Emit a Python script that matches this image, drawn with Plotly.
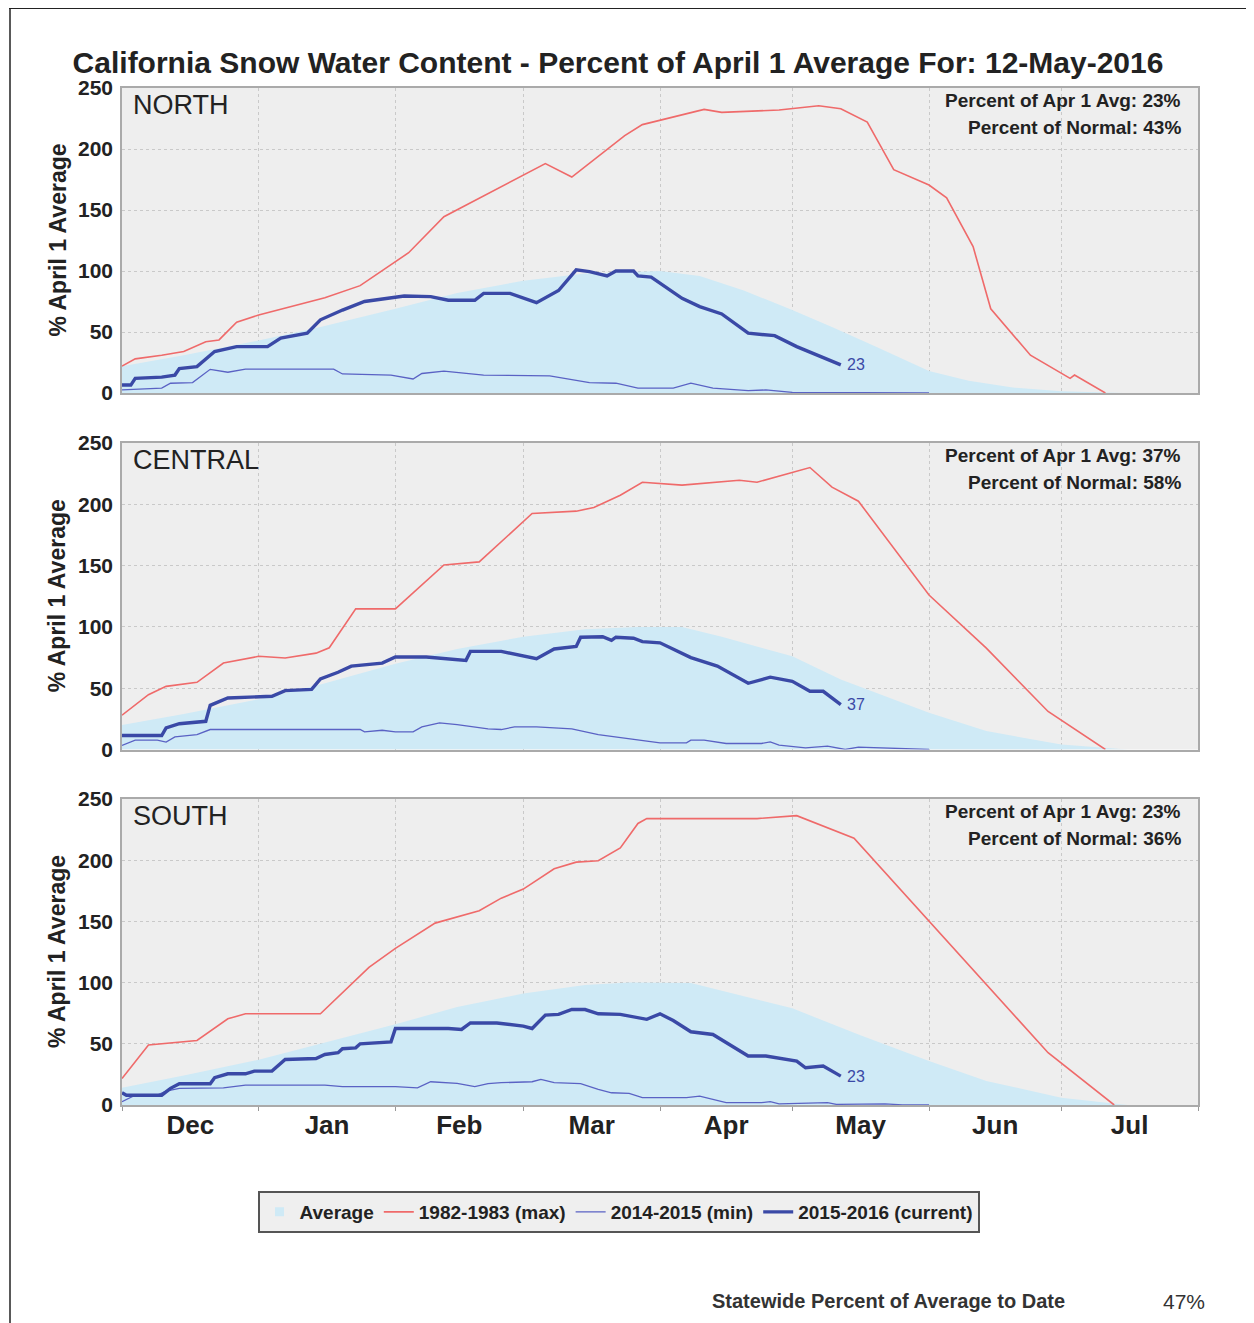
import plotly.graph_objects as go

FONT = "Liberation Sans, Arial, Helvetica, sans-serif"

# ---------------- NORTH ----------------
north_avg_dates = ["2015-12-01", "2015-12-15", "2016-01-01", "2016-01-15", "2016-02-01", "2016-02-15",
                   "2016-03-01", "2016-03-15", "2016-04-01", "2016-04-10", "2016-04-20", "2016-05-01",
                   "2016-05-10", "2016-05-20", "2016-06-01", "2016-06-10", "2016-06-20", "2016-07-01", "2016-07-15"]
north_avg_vals = [22, 31, 43, 54, 69, 82, 92, 98, 100, 96, 84, 68, 54, 38, 18, 10, 4.5, 1.5, 0]

north_max_dates = ["2015-12-01", "2015-12-04", "2015-12-10", "2015-12-15", "2015-12-20", "2015-12-23",
                   "2015-12-27", "2016-01-01", "2016-01-16", "2016-01-24", "2016-02-04", "2016-02-12",
                   "2016-03-06", "2016-03-12", "2016-03-24", "2016-03-28", "2016-04-11", "2016-04-15",
                   "2016-04-28", "2016-05-07", "2016-05-12", "2016-05-18", "2016-05-24", "2016-06-01",
                   "2016-06-05", "2016-06-11", "2016-06-15", "2016-06-24", "2016-07-03", "2016-07-04", "2016-07-11"]
north_max_vals = [22, 28, 31, 34, 42, 43.5, 58, 64, 78, 88, 115, 144.5, 188, 177, 211, 220, 232.5, 230,
                  232, 235.5, 233, 222, 183, 170.5, 160, 120, 69, 31, 12, 14.7, 0]

north_min_dates = ["2015-12-01", "2015-12-10", "2015-12-12", "2015-12-17", "2015-12-21", "2015-12-25",
                   "2015-12-29", "2016-01-18", "2016-01-20", "2016-01-31", "2016-02-05", "2016-02-07",
                   "2016-02-12", "2016-02-21", "2016-03-07", "2016-03-16", "2016-03-22", "2016-03-27",
                   "2016-04-04", "2016-04-08", "2016-04-13", "2016-04-21", "2016-04-25", "2016-05-01", "2016-06-01"]
north_min_vals = [2.5, 4, 8, 8.5, 19.4, 17, 19.6, 19.6, 15.6, 14.7, 11.5, 16, 18, 14.7, 14, 8.5, 8, 4,
                  4, 8, 4, 2, 2.5, 0.5, 0]

north_cur_dates = ["2015-12-01", "2015-12-03", "2015-12-04", "2015-12-10", "2015-12-13", "2015-12-14",
                   "2015-12-18", "2015-12-22", "2015-12-27", "2016-01-03", "2016-01-06", "2016-01-12",
                   "2016-01-15", "2016-01-20", "2016-01-25", "2016-02-03", "2016-02-09", "2016-02-13",
                   "2016-02-19", "2016-02-21", "2016-02-27", "2016-03-04", "2016-03-09", "2016-03-13",
                   "2016-03-16", "2016-03-20", "2016-03-22", "2016-03-26", "2016-03-27", "2016-03-30",
                   "2016-04-06", "2016-04-10", "2016-04-15", "2016-04-21", "2016-04-27", "2016-05-02", "2016-05-12"]
north_cur_vals = [6.5, 6.5, 12, 13, 14.7, 20, 21.6, 34, 38, 38, 45, 49, 60, 68, 75, 79.5, 79, 76, 76, 81.7,
                  81.7, 74, 84, 101, 99.5, 96, 100, 100, 96, 95, 77.6, 70.8, 64.8, 49, 47, 38, 23]

# ---------------- CENTRAL ----------------
central_avg_dates = ["2015-12-01", "2015-12-15", "2016-01-01", "2016-01-15", "2016-02-01", "2016-02-15",
                     "2016-03-01", "2016-03-15", "2016-03-27", "2016-04-06", "2016-04-15", "2016-05-01",
                     "2016-05-12", "2016-06-01", "2016-06-14", "2016-07-01", "2016-07-16"]
central_avg_vals = [20, 29, 41, 53, 70, 82, 92, 98, 100, 100, 92, 76, 57, 30, 15, 4, 0]

central_max_dates = ["2015-12-01", "2015-12-07", "2015-12-11", "2015-12-18", "2015-12-24", "2016-01-01",
                     "2016-01-07", "2016-01-14", "2016-01-17", "2016-01-23", "2016-02-01", "2016-02-12",
                     "2016-02-20", "2016-03-03", "2016-03-13", "2016-03-17", "2016-03-23", "2016-03-28",
                     "2016-04-06", "2016-04-19", "2016-04-23", "2016-05-05", "2016-05-10", "2016-05-16",
                     "2016-06-01", "2016-06-14", "2016-06-28", "2016-07-11"]
central_max_vals = [28, 44.7, 51.5, 54.8, 70.5, 76, 74.6, 78.6, 83, 114.7, 114.7, 150.5, 153, 192.5, 194.4,
                    197.4, 207.4, 218, 215.6, 219.6, 218, 230, 214, 202.5, 126, 82.7, 31, 0]

central_min_dates = ["2015-12-01", "2015-12-04", "2015-12-09", "2015-12-11", "2015-12-13", "2015-12-18",
                     "2015-12-21", "2016-01-24", "2016-01-25", "2016-01-29", "2016-02-01", "2016-02-05",
                     "2016-02-07", "2016-02-11", "2016-02-15", "2016-02-18", "2016-02-22", "2016-02-25",
                     "2016-02-28", "2016-03-04", "2016-03-12", "2016-03-18", "2016-03-22", "2016-03-27",
                     "2016-04-01", "2016-04-07", "2016-04-08", "2016-04-11", "2016-04-16", "2016-04-24",
                     "2016-04-26", "2016-04-28", "2016-05-04", "2016-05-09", "2016-05-13", "2016-05-16",
                     "2016-05-25", "2016-06-01"]
central_min_vals = [3.3, 7.6, 7.6, 6, 10.3, 12.2, 16.3, 16.3, 14.4, 15.7, 14.4, 14.4, 18.4, 21.7, 20.3, 19,
                    16.8, 16.3, 18.4, 18.4, 16.8, 12.2, 10.3, 7.6, 5.4, 5.4, 7.6, 7.6, 4.9, 4.9, 6.2, 3.5,
                    1.4, 2.7, 0, 1.9, 0.5, 0]

central_cur_dates = ["2015-12-01", "2015-12-10", "2015-12-11", "2015-12-14", "2015-12-20", "2015-12-21",
                     "2015-12-25", "2016-01-04", "2016-01-07", "2016-01-13", "2016-01-15", "2016-01-19",
                     "2016-01-22", "2016-01-29", "2016-02-01", "2016-02-08", "2016-02-17", "2016-02-18",
                     "2016-02-25", "2016-03-04", "2016-03-08", "2016-03-13", "2016-03-14", "2016-03-19",
                     "2016-03-21", "2016-03-22", "2016-03-26", "2016-03-28", "2016-04-01", "2016-04-08",
                     "2016-04-14", "2016-04-21", "2016-04-26", "2016-05-01", "2016-05-05", "2016-05-08", "2016-05-12"]
central_cur_vals = [11.4, 11.4, 17.6, 21, 23, 36, 42, 43.4, 48, 49, 57.5, 63, 68, 70.5, 75.4, 75.4, 72.7, 80,
                    80, 74, 82, 84, 91.6, 92, 89, 91.6, 90.8, 88, 87, 75, 68, 54, 59, 55.6, 47.5, 47.5, 36.6]

# ---------------- SOUTH ----------------
south_avg_dates = ["2015-12-01", "2015-12-15", "2016-01-01", "2016-01-15", "2016-02-01", "2016-02-15",
                   "2016-03-01", "2016-03-15", "2016-03-25", "2016-04-08", "2016-04-19", "2016-05-01",
                   "2016-05-16", "2016-06-01", "2016-06-14", "2016-07-01", "2016-07-16"]
south_avg_vals = [14, 24, 37, 50, 66, 80, 91, 98, 100, 99.7, 90, 79, 57.6, 36, 19.6, 6, 0]

south_max_dates = ["2015-12-01", "2015-12-07", "2015-12-18", "2015-12-25", "2015-12-29", "2016-01-15",
                   "2016-01-26", "2016-02-01", "2016-02-10", "2016-02-20", "2016-02-25", "2016-03-01",
                   "2016-03-08", "2016-03-13", "2016-03-18", "2016-03-23", "2016-03-27", "2016-03-29",
                   "2016-04-23", "2016-05-02", "2016-05-15", "2016-06-28", "2016-07-13"]
south_max_vals = [21.7, 49, 52.7, 70.4, 74.5, 74.5, 112.5, 128, 148.6, 158.7, 169, 176.4, 193, 198.4, 199.5,
                  210, 230, 234, 234, 236.4, 218, 42.7, 0]

south_min_dates = ["2015-12-01", "2015-12-04", "2015-12-09", "2015-12-11", "2015-12-14", "2015-12-24",
                   "2015-12-29", "2016-01-16", "2016-01-20", "2016-02-01", "2016-02-06", "2016-02-09",
                   "2016-02-15", "2016-02-19", "2016-02-22", "2016-02-25", "2016-03-03", "2016-03-05",
                   "2016-03-08", "2016-03-14", "2016-03-18", "2016-03-21", "2016-03-25", "2016-03-28",
                   "2016-04-07", "2016-04-10", "2016-04-16", "2016-04-24", "2016-04-26", "2016-04-28",
                   "2016-05-09", "2016-05-11", "2016-05-22", "2016-05-26", "2016-06-01"]
south_min_vals = [2.7, 8, 8, 11.4, 13.6, 14, 16.3, 16.3, 15, 15, 14, 19, 17.6, 15, 17.4, 18.2, 19, 21, 18.2,
                  17.4, 12.8, 10, 9.5, 6, 6, 7.3, 1.9, 1.9, 2.7, 1, 1.9, 0.5, 1, 0, 0]

south_cur_dates = ["2015-12-01", "2015-12-02", "2015-12-10", "2015-12-12", "2015-12-14", "2015-12-21",
                   "2015-12-22", "2015-12-25", "2015-12-29", "2015-12-31", "2016-01-04", "2016-01-07",
                   "2016-01-14", "2016-01-16", "2016-01-19", "2016-01-20", "2016-01-23", "2016-01-24",
                   "2016-01-31", "2016-02-01", "2016-02-13", "2016-02-16", "2016-02-18", "2016-02-24",
                   "2016-03-01", "2016-03-03", "2016-03-06", "2016-03-09", "2016-03-12", "2016-03-15",
                   "2016-03-18", "2016-03-23", "2016-03-29", "2016-04-01", "2016-04-04", "2016-04-08",
                   "2016-04-13", "2016-04-21", "2016-04-25", "2016-05-02", "2016-05-04", "2016-05-08", "2016-05-12"]
south_cur_vals = [10, 8, 8, 13.6, 17.4, 17.4, 22.3, 25.5, 25.5, 27.7, 27.7, 37.2, 38, 41.3, 42.7, 46, 46.7,
                  50, 51.6, 62.5, 62.5, 61.7, 67, 67, 64.4, 62.5, 73.4, 74, 78, 78, 74.5, 74, 70, 74.5, 69,
                  59.8, 57.6, 40, 40, 35.9, 30.4, 31.8, 23.6]

region_names = ["NORTH", "CENTRAL", "SOUTH"]
pct_apr1 = ["23%", "37%", "23%"]
pct_normal = ["43%", "58%", "36%"]
end_labels = ["23", "37", "23"]
series_names = ["Average", "1982-1983 (max)", "2014-2015 (min)", "2015-2016 (current)"]
month_range = ["2015-12-01", "2016-08-01"]
statewide_text = "Statewide Percent of Average to Date"
statewide_pct = "47%"
title_text = "California Snow Water Content - Percent of April 1 Average For: 12-May-2016"

AVG_FILL = "#cfeaf6"
RED = "#ef6a6a"
MIN_C = "#5a62c4"
CUR_C = "#3a49a6"
BG = "#eeeeee"
TXT = "#222222"

panels = [
    (north_avg_dates, north_avg_vals, north_max_dates, north_max_vals, north_min_dates, north_min_vals,
     north_cur_dates, north_cur_vals),
    (central_avg_dates, central_avg_vals, central_max_dates, central_max_vals, central_min_dates,
     central_min_vals, central_cur_dates, central_cur_vals),
    (south_avg_dates, south_avg_vals, south_max_dates, south_max_vals, south_min_dates, south_min_vals,
     south_cur_dates, south_cur_vals),
]

# The page body adds an 8px offset; the figure is sized so the plot lands where the reference has it.
OFF = 8
W, H = 1254 - OFF, 1323 - OFF
PLOT_L, PLOT_R, PLOT_T, PLOT_B = 122, 1198, 88, 1105   # reference page pixels
ML = PLOT_L - OFF
MT = PLOT_T - OFF
MR = (W + OFF) - PLOT_R
MB = (H + OFF) - PLOT_B
PW = PLOT_R - PLOT_L
PH = PLOT_B - PLOT_T

def py(pix):  # reference page pixel y -> paper y
    return (PLOT_B - pix) / PH

def px(pix):  # reference page pixel x -> paper x
    return (pix - PLOT_L) / PW

domains = [[py(393), 1.0], [py(749.5), py(443)], [0.0, py(799)]]

fig = go.Figure()
# legend-only proxy so the "Average" key shows as a small square, as in the reference
fig.add_trace(go.Scatter(x=[None], y=[None], mode="markers", name=series_names[0],
                         marker=dict(symbol="square", size=9, color=AVG_FILL), showlegend=True))
for i, (ad, av, xd, xv, nd, nv, cd, cv) in enumerate(panels):
    xa = "x" if i == 0 else f"x{i+1}"
    ya = "y" if i == 0 else f"y{i+1}"
    show = (i == 0)
    fig.add_trace(go.Scatter(x=ad, y=av, mode="lines", fill="tozeroy", fillcolor=AVG_FILL,
                             line=dict(width=0, color=AVG_FILL), name=series_names[0],
                             showlegend=False, xaxis=xa, yaxis=ya, hoverinfo="skip"))
    fig.add_trace(go.Scatter(x=xd, y=xv, mode="lines", line=dict(color=RED, width=1.6),
                             name=series_names[1], showlegend=show, xaxis=xa, yaxis=ya))
    fig.add_trace(go.Scatter(x=nd, y=nv, mode="lines", line=dict(color=MIN_C, width=1.3),
                             name=series_names[2], showlegend=show, xaxis=xa, yaxis=ya))
    fig.add_trace(go.Scatter(x=cd, y=cv, mode="lines", line=dict(color=CUR_C, width=3.4),
                             name=series_names[3], showlegend=show, xaxis=xa, yaxis=ya))

annotations = []
axis_common_x = dict(type="date", range=month_range, dtick="M1", tick0="2015-12-01",
                     showgrid=True, gridcolor="#c9c9c9", griddash="dot", gridwidth=1,
                     showline=True, mirror=True, linecolor="#aaaaaa", linewidth=1.5,
                     zeroline=False, ticklabelmode="period")
layout_axes = {}
for i in range(3):
    xk = "xaxis" if i == 0 else f"xaxis{i+1}"
    yk = "yaxis" if i == 0 else f"yaxis{i+1}"
    ya = "y" if i == 0 else f"y{i+1}"
    xa = "x" if i == 0 else f"x{i+1}"
    xd = dict(axis_common_x, anchor=ya)
    if i > 0:
        xd["matches"] = "x"
    if i < 2:
        xd.update(showticklabels=False, ticks="")
    else:
        xd.update(showticklabels=True, ticks="outside", ticklen=4, tickcolor="#999999",
                  ticklabelstandoff=-8,
                  tickformat="%b", tickfont=dict(family=FONT, size=26, color=TXT, weight="bold"))
    layout_axes[xk] = xd
    layout_axes[yk] = dict(domain=domains[i], anchor=xa, range=[0, 250], dtick=50,
                           showgrid=True, gridcolor="#c9c9c9", griddash="dot", gridwidth=1,
                           showline=True, mirror=True, linecolor="#aaaaaa", linewidth=1.5,
                           zeroline=False, ticks="", ticklabelstandoff=3,
                           tickfont=dict(family=FONT, size=21, color=TXT, weight="bold"))
    dref = f"{ya} domain"
    xdref = f"{xa} domain"
    annotations.append(dict(text=region_names[i], xref=xdref, yref=dref, x=0, y=1, xshift=9, yshift=-17,
                            xanchor="left", yanchor="middle", showarrow=False,
                            font=dict(family=FONT, size=27, color=TXT)))
    annotations.append(dict(text="Percent of Apr 1 Avg: " + pct_apr1[i], xref=xdref, yref=dref, x=1, y=1,
                            xshift=-15, yshift=-12, xanchor="right", yanchor="middle", showarrow=False,
                            font=dict(family=FONT, size=19, color=TXT, weight="bold")))
    annotations.append(dict(text="Percent of Normal: " + pct_normal[i], xref=xdref, yref=dref, x=1, y=1,
                            xshift=-15, yshift=-39, xanchor="right", yanchor="middle", showarrow=False,
                            font=dict(family=FONT, size=19, color=TXT, weight="bold")))
    annotations.append(dict(text="% April 1 Average", xref="paper", yref=dref, x=px(57), y=0.5,
                            xanchor="center", yanchor="middle", textangle=-90, showarrow=False,
                            font=dict(family=FONT, size=23, color=TXT, weight="bold")))
    cd, cv = panels[i][6], panels[i][7]
    annotations.append(dict(text=end_labels[i], xref=xa, yref=ya, x=cd[-1], y=cv[-1], xshift=4,
                            xanchor="left", yanchor="middle", showarrow=False,
                            font=dict(family=FONT, size=16, color=CUR_C)))

annotations.append(dict(text=statewide_text, xref="paper", yref="paper", x=px(710), y=py(1301),
                        xanchor="left", yanchor="middle", showarrow=False,
                        font=dict(family=FONT, size=20, color="#333333", weight="bold")))
annotations.append(dict(text=statewide_pct, xref="paper", yref="paper", x=px(1207), y=py(1301),
                        xanchor="right", yanchor="middle", showarrow=False,
                        font=dict(family=FONT, size=21, color="#333333")))

shapes = [
    dict(type="line", xref="paper", yref="paper", x0=px(9), x1=px(1300), y0=py(8.2), y1=py(8.2),
         line=dict(color=TXT, width=1.5)),
    dict(type="line", xref="paper", yref="paper", x0=px(10), x1=px(10), y0=py(8), y1=py(1340),
         line=dict(color=TXT, width=1.5)),
]

fig.update_layout(
    width=W, height=H, autosize=False,
    margin=dict(l=ML, r=MR, t=MT, b=MB),
    paper_bgcolor="white", plot_bgcolor=BG,
    font=dict(family=FONT, color=TXT),
    title=dict(text=title_text, xref="container", yref="container",
               x=(618 - OFF) / W, y=1 - (62 - OFF) / H,
               xanchor="center", yanchor="middle",
               font=dict(family=FONT, size=30, color=TXT, weight="bold")),
    legend=dict(orientation="h", xref="paper", yref="paper", x=px(618.5), y=py(1191),
                xanchor="center", yanchor="top", bgcolor="#efefef", bordercolor="#555555",
                borderwidth=2, itemwidth=30,
                font=dict(family=FONT, size=19, color=TXT, weight="bold")),
    annotations=annotations,
    shapes=shapes,
    showlegend=True,
    **layout_axes,
)

fig.write_html("out.html")
